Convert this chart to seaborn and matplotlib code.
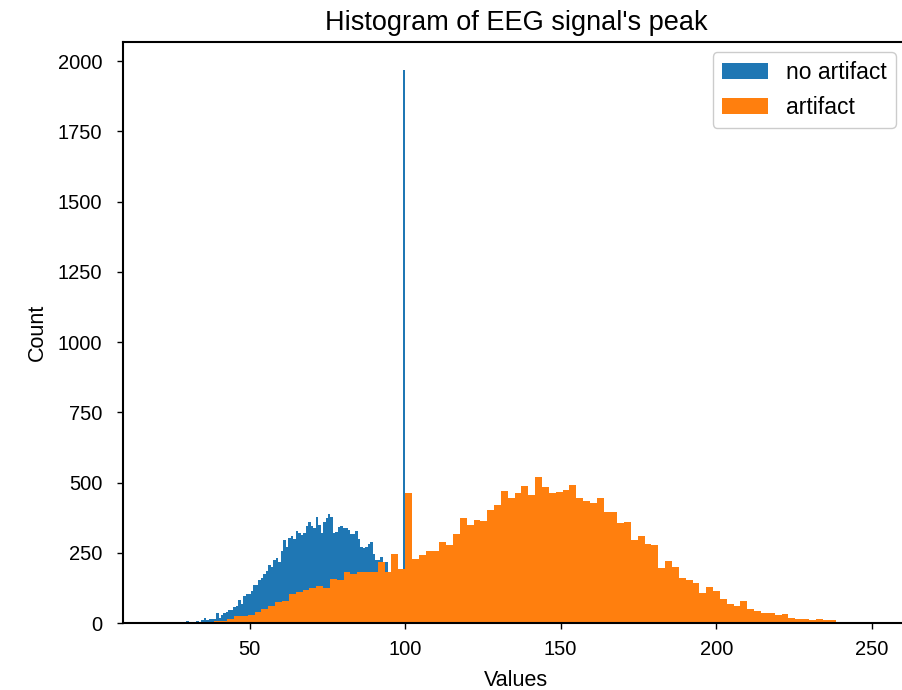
import numpy as np
import pandas as pd
import matplotlib
matplotlib.use("Agg")
import matplotlib.pyplot as plt
import seaborn as sns

# Histogram counts for peaks without artifacts (bin width 0.8, first edge 29.6)
no_artifact_start = 29.6
no_artifact_width = 0.8
no_artifact_counts = [
    7, 0, 0, 0, 7, 4, 11, 18, 11, 14,
    14, 14, 36, 18, 28, 36, 39, 46, 46, 57,
    60, 82, 68, 96, 103, 103, 114, 135, 135, 153,
    160, 174, 185, 206, 199, 224, 231, 217, 256, 295,
    270, 302, 309, 299, 327, 320, 313, 320, 345, 359,
    345, 338, 377, 348, 320, 359, 373, 388, 377, 320,
    323, 341, 345, 338, 338, 331, 316, 316, 327, 299,
    270, 266, 270, 281, 288, 245, 224, 224, 235, 217,
    217, 175, 180, 165, 160, 150, 140, 1970,
]

# Histogram counts for peaks with artifacts (bin width 2.2, first edge 38.4)
artifact_start = 38.4
artifact_width = 2.2
artifact_counts = [
    7, 7, 14, 25, 25, 28, 39, 50, 62, 73,
    80, 105, 112, 119, 123, 130, 126, 156, 153, 180,
    176, 180, 183, 180, 217, 183, 245, 192, 463, 227,
    241, 256, 256, 288, 277, 316, 373, 348, 366, 362,
    401, 419, 469, 444, 462, 487, 455, 519, 483, 462,
    465, 473, 490, 444, 433, 426, 444, 394, 394, 355,
    359, 295, 309, 281, 277, 195, 220, 199, 160, 153,
    142, 107, 128, 114, 85, 67, 60, 78, 50, 43,
    36, 36, 28, 32, 18, 14, 14, 11, 14, 11,
    11,
]


def binned_frame(start, width, counts):
    edges = start + width * np.arange(len(counts) + 1)
    centers = (edges[:-1] + edges[1:]) / 2
    return pd.DataFrame({"value": centers, "count": counts}), edges.tolist()


df_no, edges_no = binned_frame(no_artifact_start, no_artifact_width, no_artifact_counts)
df_art, edges_art = binned_frame(artifact_start, artifact_width, artifact_counts)

sns.set_theme(style="ticks")
plt.rcParams["font.family"] = ["Liberation Sans", "DejaVu Sans"]
plt.rcParams["text.color"] = "black"
plt.rcParams["axes.labelcolor"] = "black"
plt.rcParams["axes.edgecolor"] = "black"
plt.rcParams["axes.linewidth"] = 1.5
plt.rcParams["xtick.major.width"] = 1.0
plt.rcParams["ytick.major.width"] = 1.0
plt.rcParams["xtick.major.size"] = 4.3
plt.rcParams["ytick.major.size"] = 4.3

fig = plt.figure(figsize=(9.02, 6.90), dpi=100)
ax = fig.add_axes([0.1364, 0.0971, 0.8714, 0.842])

sns.histplot(data=df_no, x="value", weights="count", bins=edges_no,
             color="#1f77b4", alpha=1, linewidth=0, edgecolor="none",
             label="no artifact", ax=ax)
sns.histplot(data=df_art, x="value", weights="count", bins=edges_art,
             color="#ff7f0e", alpha=1, linewidth=0, edgecolor="none",
             label="artifact", ax=ax)

ax.set_xlim(9.3, 262)
ax.set_ylim(0, 2068.5)
ax.set_xticks([50, 100, 150, 200, 250])
ax.set_yticks(np.arange(0, 2001, 250))
ax.tick_params(labelsize=14.5, colors="black")
ax.tick_params(axis="x", pad=8)
ax.tick_params(axis="y", pad=10.5)

ax.set_title("Histogram of EEG signal's peak", fontsize=19.5, pad=9, color="black")
ax.set_xlabel("Values", fontsize=15.5, labelpad=8, color="black")
ax.set_ylabel("Count", fontsize=15.5, labelpad=7, color="black")

leg = ax.legend(loc="upper right", bbox_to_anchor=(0.9835, 0.9828),
                fontsize=16.5, frameon=True, fancybox=True,
                edgecolor="#cccccc", framealpha=1, borderaxespad=0)
for text in leg.get_texts():
    text.set_color("black")

fig.savefig("out.png", dpi=100)
